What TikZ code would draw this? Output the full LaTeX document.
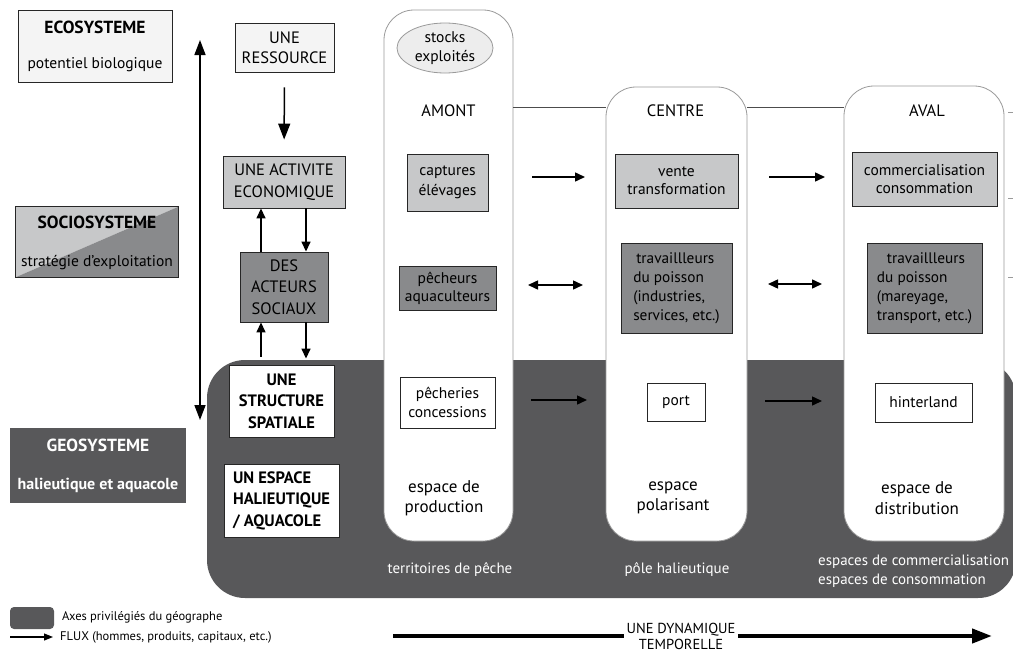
\documentclass[tikz,border=0pt]{standalone}
\usepackage{fontspec}
\setmainfont{PT Sans}
\usetikzlibrary{arrows.meta,shapes.geometric}
\definecolor{cVL}{HTML}{F4F4F4}
\definecolor{cLight}{HTML}{C7C8C9}
\definecolor{cMid}{HTML}{898A8C}
\definecolor{cDark}{HTML}{58585A}
\definecolor{cEll}{HTML}{EDEDED}
\definecolor{cPill}{HTML}{9A9A9A}
\begin{document}
\begin{tikzpicture}[x=1pt,y=-1pt,
  every node/.style={font=\fontsize{15.5}{19}\selectfont, inner sep=0pt},
  box/.style={draw=black!85, line width=0.9pt, align=center},
  vlbox/.style={box, fill=cVL},
  lbox/.style={box, fill=cLight},
  mbox/.style={box, fill=cMid},
  wbox/.style={box, fill=white},
  pill/.style={draw=cPill, line width=0.8pt, fill=white, rounded corners=30pt},
  caps/.style={font=\fontsize{16.5}{21.5}\selectfont},
  bcaps/.style={font=\fontsize{16.5}{21.5}\selectfont\bfseries},
  title/.style={font=\fontsize{17.5}{21}\selectfont\bfseries},
  big/.style={font=\fontsize{17}{20.5}\selectfont, align=center},
  wlbl/.style={align=center, text=white, font=\fontsize{15}{19}\selectfont},
  arr/.style={-{Triangle[length=10pt,width=9pt]}, line width=1.5pt},
  darr/.style={{Triangle[length=10pt,width=9pt]}-{Triangle[length=10pt,width=9pt]}, line width=1.5pt},
  varr/.style={-{Triangle[length=16pt,width=12pt]}, line width=1.5pt},
  tick/.style={draw=cPill, line width=0.8pt},
]
\useasboundingbox (0,0) rectangle (1013,653);
\fill[white] (0,0) rectangle (1013,653);

% dark region
\fill[cDark, rounded corners=38pt] (207,360) rectangle (1016,598);

% pills
\node[pill, minimum width=129pt, minimum height=531pt] (amont) at (448.5,275.5) {};
\node[pill, minimum width=141pt, minimum height=454pt] (centre) at (676.5,314) {};
\node[pill, minimum width=160pt, minimum height=455pt] (aval) at (924,313.5) {};
\coordinate (hl) at (0,107);
\draw[draw=black!70, line width=0.7pt] (amont.east |- hl) -- (centre.west |- hl);
\draw[draw=black!70, line width=0.7pt] (centre.east |- hl) -- (aval.west |- hl);

% right edge ticks
\coordinate (t1a) at (1008,112); \coordinate (t1b) at (1013,112);
\coordinate (t2a) at (1008,198); \coordinate (t2b) at (1013,198);
\coordinate (t3a) at (1008,277); \coordinate (t3b) at (1013,277);
\draw[tick] (t1a) -- (t1b);
\draw[tick] (t2a) -- (t2b);
\draw[tick] (t3a) -- (t3b);

% left system boxes
\node[vlbox, minimum width=154pt, minimum height=72pt] (eco) at (95,46) {};
\node[title] (ecot) at (95,27) {ECOSYSTEME};
\node (ecos) at (95,65) {potentiel biologique};

\path node[minimum width=162pt, minimum height=70pt] (socio) at (97,242) {};
\fill[cLight] (socio.north west) -- (socio.north east) -- (socio.south west) -- cycle;
\fill[cMid] (socio.north east) -- (socio.south east) -- (socio.south west) -- cycle;
\draw[draw=black!85, line width=0.9pt] (socio.south west) rectangle (socio.north east);
\node[title] (sociot) at (97,222) {SOCIOSYSTEME};
\node (socios) at (97,263) {strat\'egie d'exploitation};

\node[fill=cDark, minimum width=176pt, minimum height=75pt] (geo) at (98,465.5) {};
\node[title, text=white] (geot) at (98,445) {GEOSYSTEME};
\node[font=\fontsize{16}{19}\selectfont\bfseries, text=white] (geos) at (98,485) {halieutique et aquacole};

% vertical axis
\coordinate (axt) at (200,40);
\coordinate (axb) at (200,420);
\draw[{Triangle[length=15pt,width=11pt]}-{Triangle[length=15pt,width=11pt]}, line width=1.5pt] (axb) -- (axt);

% left column
\node[vlbox, caps, minimum width=99pt, minimum height=49pt, font=\fontsize{16.5}{20.5}\selectfont] (res) at (284.5,47.5) {UNE\\RESSOURCE};
\node[lbox, caps, minimum width=122pt, minimum height=52pt] (act) at (284,182) {UNE ACTIVITE\\ECONOMIQUE};
\node[mbox, caps, minimum width=88pt, minimum height=70pt] (acteurs) at (284,287) {DES\\ACTEURS\\SOCIAUX};
\node[wbox, bcaps, minimum width=105pt, minimum height=72pt] (struct) at (281.5,401) {UNE\\STRUCTURE\\SPATIALE};
\node[wbox, bcaps, minimum width=115pt, minimum height=73pt, align=left] (espace) at (281.5,500.5) {UN ESPACE\\HALIEUTIQUE\\/ AQUACOLE};

\draw[varr, shorten <=15pt, shorten >=16pt] (res) -- (act);
\coordinate (xl) at (261,0);
\coordinate (xr) at (306,0);
\draw[arr] (acteurs.north -| xl) -- (act.south -| xl);
\draw[arr] (act.south -| xr) -- (acteurs.north -| xr);
\draw[arr, shorten <=8pt] (struct.north -| xl) -- (acteurs.south -| xl);
\draw[arr, shorten >=6pt] (acteurs.south -| xr) -- (struct.north -| xr);

% AMONT column
\node[ellipse, draw=cPill, line width=0.8pt, fill=cEll, minimum width=96pt, minimum height=50pt, align=center, font=\fontsize{15.5}{18.5}\selectfont] (stocks) at (445,48) {stocks\\exploit\'es};
\node[caps] (amontl) at (448.5,111) {AMONT};
\node[lbox, minimum width=81pt, minimum height=57pt, font=\fontsize{15.5}{20}\selectfont] (capt) at (447.5,182.5) {captures\\\'el\'evages};
\node[mbox, minimum width=97pt, minimum height=44pt, font=\fontsize{15.5}{18}\selectfont] (pech) at (447.5,288) {p\^echeurs\\aquaculteurs};
\node[wbox, minimum width=95pt, minimum height=51pt, font=\fontsize{15.5}{18.5}\selectfont] (peche) at (447.5,402.5) {p\^echeries\\concessions};
\node[big] (prod) at (444,498) {espace de\\production};
\node[wlbl] (terr) at (450,570) {territoires de p\^eche};

% CENTRE column
\node[caps] (centrel) at (675.5,111) {CENTRE};
\node[lbox, minimum width=123pt, minimum height=54pt, font=\fontsize{15.5}{18}\selectfont] (vente) at (676.5,181) {vente\\transformation};
\node[mbox, minimum width=111pt, minimum height=90pt, align=left, font=\fontsize{15.3}{19}\selectfont] (trav1) at (676.5,288) {\hspace*{3pt}travaillleurs\\du poisson\\(industries,\\services, etc.)};
\node[wbox, minimum width=58pt, minimum height=38pt] (port) at (676,402) {port};
\node[big] (polar) at (673,498) {espace\\polarisant};
\node[wlbl] (pole) at (677,570) {p\^ole halieutique};

% AVAL column
\node[caps] (avall) at (927,111) {AVAL};
\node[lbox, minimum width=145pt, minimum height=54pt, font=\fontsize{15.5}{18}\selectfont] (comm) at (924.5,179) {commercialisation\\consommation};
\node[mbox, minimum width=115pt, minimum height=90pt, align=left, font=\fontsize{15.3}{19}\selectfont] (trav2) at (924.5,288) {\hspace*{10pt}travaillleurs\\du poisson\\(mareyage,\\transport, etc.)};
\node[wbox, minimum width=97pt, minimum height=39pt] (hint) at (923.5,402.5) {hinterland};
\node[big] (distr) at (917,498) {espace de\\distribution};
\node[wlbl, anchor=west, align=left] (espc) at (818,571.5) {espaces de commercialisation\\espaces de consommation};

% flows between columns
\coordinate (f1a) at (532,177); \coordinate (f1b) at (585,177);
\coordinate (f2a) at (769,177); \coordinate (f2b) at (825,177);
\coordinate (f3a) at (528,285); \coordinate (f3b) at (583,285);
\coordinate (f4a) at (768,284); \coordinate (f4b) at (822,284);
\coordinate (f5a) at (531,400); \coordinate (f5b) at (587,400);
\coordinate (f6a) at (765,401); \coordinate (f6b) at (822,401);
\draw[arr] (f1a) -- (f1b);
\draw[arr] (f2a) -- (f2b);
\draw[darr] (f3a) -- (f3b);
\draw[darr] (f4a) -- (f4b);
\draw[arr] (f5a) -- (f5b);
\draw[arr] (f6a) -- (f6b);

% temporal dynamic
\coordinate (dyna) at (393,636);
\coordinate (dynb) at (992,636);
\draw[-{Triangle[length=20pt,width=14pt]}, line width=4.2pt] (dyna) -- (dynb);
\node[fill=white, inner xsep=3pt, inner ysep=0pt, align=center, font=\fontsize{14.5}{16}\selectfont] (dyn) at (681,636) {UNE DYNAMIQUE\\TEMPORELLE};

% legend
\node[fill=cDark, rounded corners=4pt, minimum width=44pt, minimum height=22pt] (leg1) at (32,618) {};
\node[anchor=west, font=\fontsize{12.5}{14}\selectfont] (leg1t) at (62,617) {Axes privil\'egi\'es du g\'eographe};
\coordinate (lega) at (10,637);
\coordinate (legb) at (53,637);
\draw[-{Triangle[length=9pt,width=7pt]}, line width=1.1pt] (lega) -- (legb);
\node[anchor=west, font=\fontsize{12.5}{14}\selectfont] (leg2t) at (60,637) {FLUX (hommes, produits, capitaux, etc.)};
\end{tikzpicture}
\end{document}
